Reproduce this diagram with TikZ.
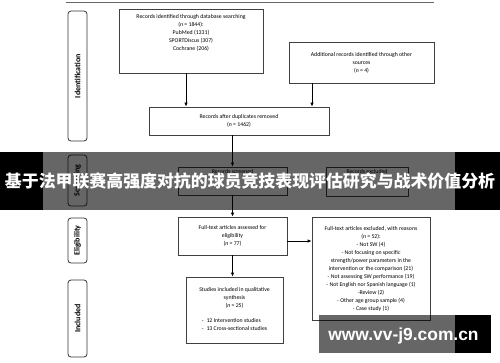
\documentclass[tikz,border=0pt]{standalone}
\usepackage{fontspec}
\setmainfont{Carlito}
\newfontfamily\cjk{Noto Sans CJK SC}
\newfontfamily\wmfont{Liberation Sans}
\usetikzlibrary{arrows.meta,positioning}

\begin{document}
\begin{tikzpicture}[x=1pt, y=-1pt,
  box/.style = {draw=black!75, line width=0.8pt, align=center, inner sep=1pt, font=\fontsize{5.8}{8}\selectfont},
  txt/.style = {align=center, inner sep=0pt, font=\fontsize{5.8}{8}\selectfont},
  stage/.style = {draw=black!80, line width=0.8pt, rounded corners=3pt, rotate=90, minimum height=19pt, inner sep=0pt, font=\fontsize{8}{9}\selectfont\bfseries},
  arr/.style = {draw=black, line width=0.8pt, -{Latex[length=4pt,width=3.5pt]}}]
  \useasboundingbox (0,0) rectangle (500,362);
  \draw[black!60, line width=0.8pt] (66,2) -- (434,2);
  % stages
  \node[stage, minimum width=130pt] (sId) at (77.5,76) {Identification};
  \node[stage, minimum width=51pt] (sScr) at (77.5,180.5) {Screening};
  \node[stage, minimum width=45pt] (sElig) at (77.5,240.5) {Eligibility};
  \node[stage, minimum width=77pt] (sInc) at (77.5,318.5) {Included};
  % boxes
  \node[box, minimum width=144pt, minimum height=64pt] (ident) at (191,41) {};
  \node[txt, anchor=north] (identtxt) at ([yshift=-5.5pt]ident.north) {Records identified through database searching\\(\textit{n} = 1844):\\PubMed (1331)\\SPORTDiscus (307)\\Cochrane (206)};
  \node[box, minimum width=145pt, minimum height=41pt] (other) at (361.5,62.5) {Additional records identified through other\\sources\\(\textit{n} = 4)};
  \node[box, minimum width=180pt, minimum height=28pt] (dup) at (239,121) {Records after duplicates removed\\(\textit{n} = 1462)};
  \node[box, minimum width=109pt, minimum height=28pt] (scr) at (232.5,181) {};
  \node[txt, anchor=north] (scrtxt) at ([yshift=-3pt]scr.north) {Records screened};
  \node[box, minimum width=82pt, minimum height=29pt] (exc) at (367,181.5) {};
  \node[txt, anchor=north] (exctxt) at ([yshift=-3pt]exc.north) {Records excluded};
  \node[box, minimum width=109pt, minimum height=38pt] (fte) at (232.5,236) {Full-text articles assessed for\\eligibility\\(\textit{n} = 77)};
  \node[box, minimum width=97pt, minimum height=66pt] (inc) at (234.5,310) {Studies included in qualitative\\synthesis\\(\textit{n} = 25)\\[8pt]\begin{tabular}{@{}l@{}}-\enspace 12 Intervention studies\\-\enspace 13 Cross-sectional studies\end{tabular}};
  \node[box, minimum width=118pt, minimum height=103pt] (ftx) at (371,268.5) {Full-text articles excluded, with reasons\\(\textit{n} = 52):\\- Not SW (4)\\- Not focusing on specific\\strength/power parameters in the\\intervention or the comparison (21)\\- Not assessing SW performance (19)\\- Not English nor Spanish language (1)\\-Review (2)\\- Other age group sample (4)\\- Case study (1)};
  % arrows
  \draw[arr] ([xshift=-5pt]ident.south) -- ([xshift=-5pt]ident.south |- dup.north);
  \draw[arr] ([xshift=-49.5pt]other.south) -- ([xshift=-49.5pt]other.south |- dup.north);
  \draw[arr] (dup.south -| scr.north) -- (scr.north);
  \draw[arr] (scr.south) -- (fte.north);
  \draw[arr] ([yshift=-5pt]fte.east) -- ([yshift=-5pt]fte.east -| ftx.west);
  \draw[arr] (fte.south) -- (fte.south |- inc.north);
  % overlays
  \fill[black, opacity=0.6] (43,152) rectangle (455,210);
  \fill[black] (0,152) rectangle (43,210);
  \fill[black] (455,152) rectangle (500,210);
  \node[text=white, inner sep=0pt, font=\cjk\bfseries\fontsize{16.9}{18}\selectfont] (title) at (250,181) {基于法甲联赛高强度对抗的球员竞技表现评估研究与战术价值分析};
  \fill[black, opacity=0.6] (319,315) rectangle (455,353);
  \fill[black] (455,315) rectangle (491,353);
  \node[text=white, inner sep=0pt, font=\wmfont\bfseries\fontsize{17.4}{18}\selectfont] (wm) at (403.5,336) {www.vv-j9.com.cn};
\end{tikzpicture}
\end{document}
